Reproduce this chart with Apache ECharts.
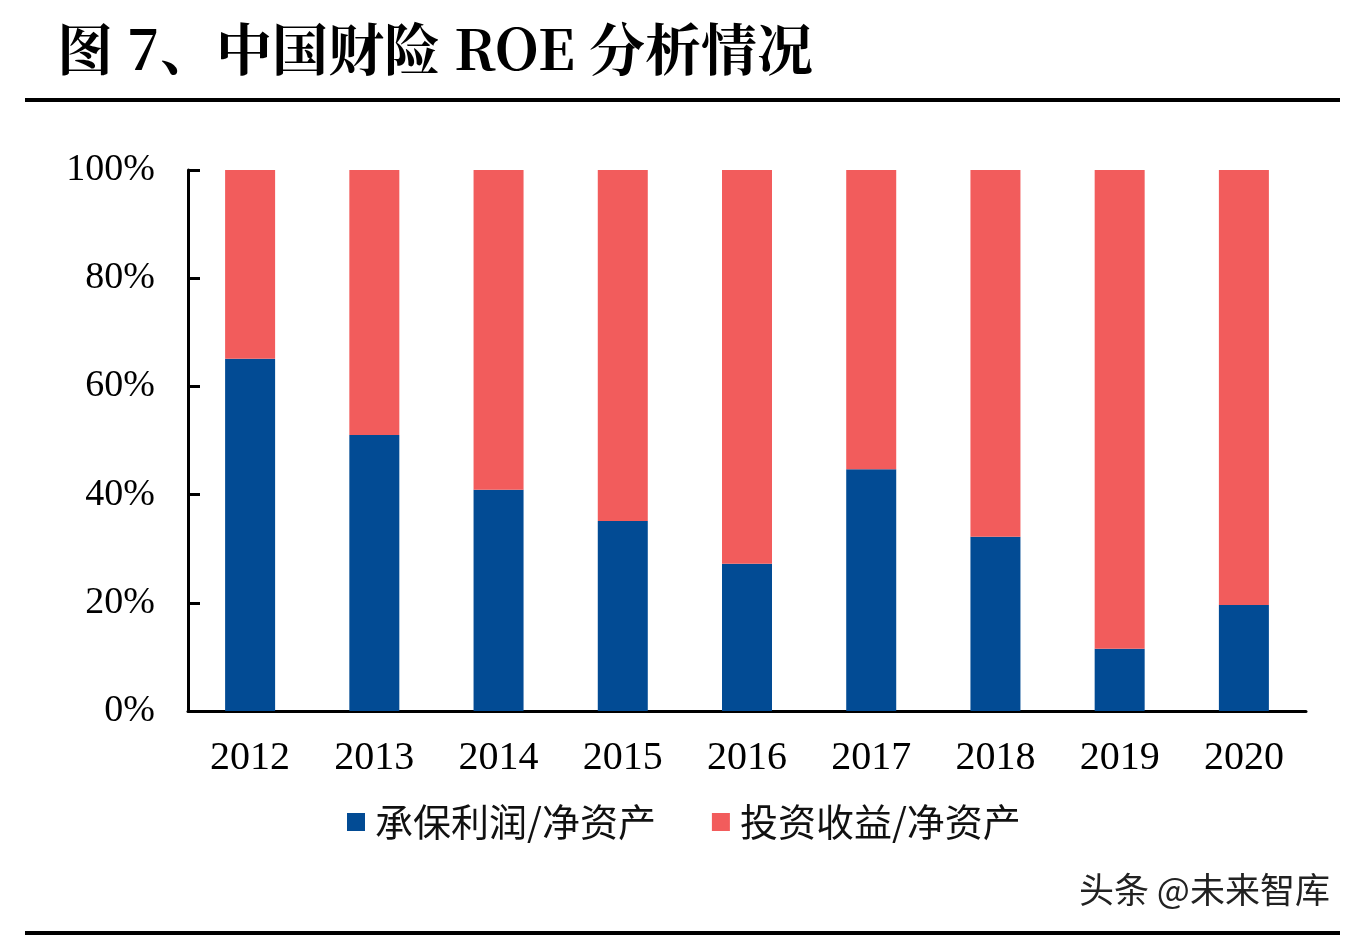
<!DOCTYPE html>
<html><head><meta charset="utf-8">
<script src="https://cdn.jsdelivr.net/npm/echarts@6/dist/echarts.min.js"></script>
<style>html,body{margin:0;padding:0;background:#fff}#c{width:1354px;height:938px}</style>
</head><body><div id="c"></div>
<script>
const years = ['2012','2013','2014','2015','2016','2017','2018','2019','2020'];
const underwriting = [65.1, 51.0, 40.9, 35.1, 27.2, 44.7, 32.2, 11.5, 19.6];
const investment = [34.9, 49.0, 59.1, 64.9, 72.8, 55.3, 67.8, 88.5, 80.4];
const seriesNames = ['承保利润/净资产', '投资收益/净资产'];
const yTicks = [0, 20, 40, 60, 80, 100];

const chart = echarts.init(document.getElementById('c'), null, {renderer: 'canvas'});
const serif = '"Liberation Serif","DejaVu Serif",serif';
const cjk = '"Noto Sans CJK SC","Noto Sans CJK JP",sans-serif';
chart.setOption({
  backgroundColor: '#fff',
  animation: false,
  grid: {left: 188, right: 48, top: 170, bottom: 227},
  legend: {
    data: seriesNames, bottom: 92, left: 342, itemWidth: 18, itemHeight: 18, itemGap: 56,
    icon: 'rect',
    textStyle: {fontFamily: cjk, fontSize: 38, color: '#111', padding: [0, 0, 0, 5]}
  },
  xAxis: {
    type: 'category', data: years,
    axisLine: {lineStyle: {color: '#000', width: 3}},
    axisTick: {show: false},
    axisLabel: {fontFamily: serif, fontSize: 40, color: '#000', margin: 27}
  },
  yAxis: {
    type: 'value', min: 0, max: 100, interval: 20,
    axisLine: {show: true, lineStyle: {color: '#000', width: 3}},
    axisTick: {show: true, inside: true, length: 12, lineStyle: {color: '#000', width: 3}},
    splitLine: {show: false},
    axisLabel: {fontFamily: serif, fontSize: 38, color: '#000', margin: 33,
      formatter: v => yTicks.includes(v) ? v + '%' : ''}
  },
  series: [
    {name: seriesNames[0], type: 'bar', stack: 's', data: underwriting, barWidth: 50,
     itemStyle: {color: '#024B94'}},
    {name: seriesNames[1], type: 'bar', stack: 's', data: investment, barWidth: 50,
     itemStyle: {color: '#F25C5C'}}
  ],
  graphic: [
    {type: 'text', left: 57, top: 21, style: {text: '图 7、中国财险 ROE 分析情况', font: 'bold 56px ' + '"Noto Serif CJK SC","Noto Sans CJK SC",serif', fill: '#000'}},
    {type: 'rect', shape: {x: 25, y: 98, width: 1315, height: 4}, style: {fill: '#000'}},
    {type: 'rect', shape: {x: 25, y: 931, width: 1315, height: 4}, style: {fill: '#000'}},
    {type: 'text', left: 1079, top: 872, style: {text: '头条 @未来智库', font: '35px ' + cjk, fill: '#222'}}
  ]
});
</script></body></html>
